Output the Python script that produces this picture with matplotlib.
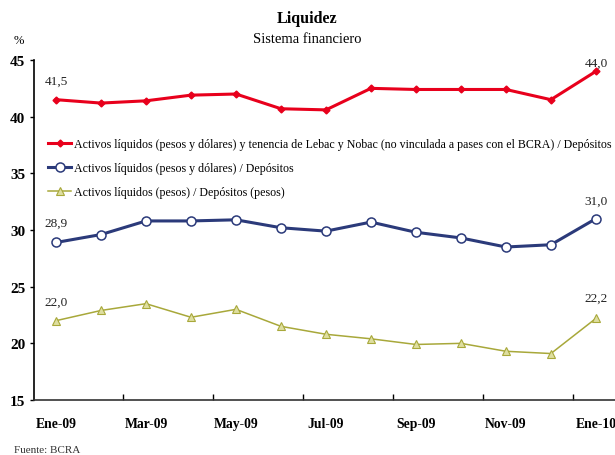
import matplotlib.pyplot as plt
import numpy as np

plt.rcParams['font.family'] = ['Liberation Serif', 'DejaVu Serif']

meses = ['Ene-09', 'Feb-09', 'Mar-09', 'Abr-09', 'May-09', 'Jun-09', 'Jul-09',
         'Ago-09', 'Sep-09', 'Oct-09', 'Nov-09', 'Dic-09', 'Ene-10']

# liquidez amplia: incluye Lebac y Nobac
liq_lebac = [41.5, 41.2, 41.4, 41.9, 42.0, 40.7, 40.6, 42.5, 42.4, 42.4, 42.4, 41.5, 44.0]
liq_total = [28.9, 29.6, 30.8, 30.8, 30.9, 30.2, 29.9, 30.7, 29.8, 29.3, 28.5, 28.7, 31.0]
liq_pesos = [22.0, 22.9, 23.5, 22.3, 23.0, 21.5, 20.8, 20.4, 19.9, 20.0, 19.3, 19.1, 22.2]

nombres = ['Activos líquidos (pesos y dólares) y tenencia de Lebac y Nobac (no vinculada a pases con el BCRA) / Depósitos',
           'Activos líquidos (pesos y dólares) / Depósitos',
           'Activos líquidos (pesos) / Depósitos (pesos)']

x = np.arange(len(meses))

fig = plt.figure(figsize=(6.15, 4.56), dpi=100)
ax = fig.add_axes([0.0545, 0.1206, 0.951, 0.7456])

ax.plot(x, liq_lebac, color='#E8001C', lw=2.2, marker='D', ms=3.5,
        mfc='#E8001C', mec='#E8001C', label=nombres[0], clip_on=False)
ax.plot(x, liq_total, color='#2B3A7A', lw=2.2, marker='o', ms=6.5,
        mfc='white', mec='#2B3A7A', mew=1.1, label=nombres[1], clip_on=False)
ax.plot(x, liq_pesos, color='#A8A83A', lw=1.1, marker='^', ms=6,
        mfc='#DEDEA0', mec='#A8A83A', mew=0.8, label=nombres[2], clip_on=False)

# valores extremos de cada serie
for serie, dy0, dy1 in [(liq_lebac, 1.7, 0.8), (liq_total, 1.7, 1.6), (liq_pesos, 1.7, 1.8)]:
    ax.text(x[0], serie[0] + dy0, f'{serie[0]:.1f}'.replace('.', ','),
            ha='center', va='center', fontsize=9.5, color='#222222')
    ax.text(x[-1], serie[-1] + dy1, f'{serie[-1]:.1f}'.replace('.', ','),
            ha='center', va='center', fontsize=9.5, color='#222222')

ax.set_xlim(-0.5, 12.5)
ax.set_ylim(15, 45)
ax.set_yticks(range(15, 46, 5))
ax.set_yticklabels([str(v) for v in range(15, 46, 5)], fontweight='bold', fontsize=11)

ax.set_xticks(np.arange(1.5, 12, 2))
ax.set_xticklabels([])
ax.tick_params(axis='x', which='major', direction='in', length=4, width=1)
ax.set_xticks(x[::2], minor=True)
ax.set_xticklabels(meses[::2], minor=True, fontweight='bold', fontsize=9.8)
ax.tick_params(axis='x', which='minor', length=0, pad=12)
ax.tick_params(axis='y', direction='out', length=3, width=1, pad=3)

for s in ['top', 'right']:
    ax.spines[s].set_visible(False)
for s in ['left', 'bottom']:
    ax.spines[s].set_linewidth(1.2)
ax.spines['bottom'].set_color('#333333')

leg = ax.legend(loc='upper left', bbox_to_anchor=(0.017, 0.785), frameon=False,
                fontsize=8.6, handlelength=1.9, handletextpad=0.25, labelspacing=1.0,
                borderaxespad=0)

fig.text(0.5, 0.958, 'Liquidez', ha='center', va='center', fontsize=11.5, fontweight='bold')
fig.text(0.5, 0.914, 'Sistema financiero', ha='center', va='center', fontsize=10.5)
fig.text(0.022, 0.91, '%', ha='left', va='center', fontsize=9)
fig.text(0.022, 0.012, 'Fuente: BCRA', ha='left', va='center', fontsize=8, color='#333333')

fig.savefig('out.png', dpi=100)
